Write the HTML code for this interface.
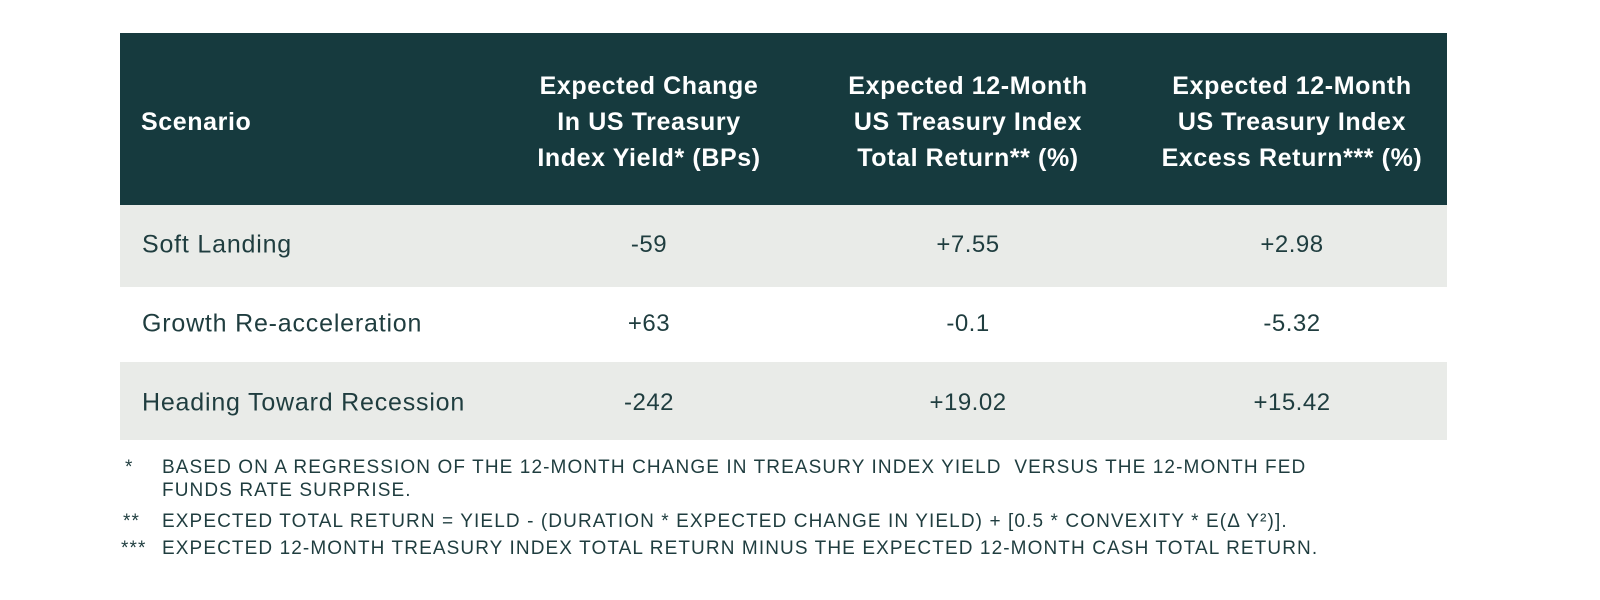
<!DOCTYPE html>
<html><head><meta charset="utf-8">
<style>
body{margin:0;width:1600px;height:600px;background:#fff;position:relative;overflow:hidden;font-family:"Liberation Sans",sans-serif;color:#1f3d3f}
.hdr{position:absolute;left:120px;top:33px;width:1327px;height:172px;background:#163a3e}
.h{position:absolute;color:#fff;font-weight:bold;font-size:25px;letter-spacing:0.6px;line-height:36px;text-align:center;white-space:nowrap}
.row{position:absolute;left:120px;width:1327px}
.c{position:absolute;font-size:24px;letter-spacing:0.5px;white-space:nowrap;transform:translate(-50%,-50%)}
.l{position:absolute;font-size:25px;letter-spacing:0.8px;white-space:nowrap;transform:translateY(-50%);left:142px}
.fn{position:absolute;font-size:19px;letter-spacing:1.1px;white-space:nowrap;line-height:23px}
</style></head><body>
<div class="hdr"></div>
<div class="h" style="left:141px;top:104px;text-align:left">Scenario</div>
<div class="h" style="left:649px;top:68px;transform:translateX(-50%)">Expected Change<br>In US Treasury<br>Index Yield* (BPs)</div>
<div class="h" style="left:968px;top:68px;transform:translateX(-50%)">Expected 12-Month<br>US Treasury Index<br>Total Return** (%)</div>
<div class="h" style="left:1292px;top:68px;transform:translateX(-50%)">Expected 12-Month<br>US Treasury Index<br>Excess Return*** (%)</div>

<div class="row" style="top:205px;height:82px;background:#e9ebe8"></div>
<div class="row" style="top:287px;height:75px;background:#fff"></div>
<div class="row" style="top:362px;height:78px;background:#e9ebe8"></div>

<div class="l" style="top:245px">Soft Landing</div>
<div class="c" style="left:649px;top:245px">-59</div>
<div class="c" style="left:968px;top:245px">+7.55</div>
<div class="c" style="left:1292px;top:245px">+2.98</div>

<div class="l" style="top:324px">Growth Re-acceleration</div>
<div class="c" style="left:649px;top:324px">+63</div>
<div class="c" style="left:968px;top:324px">-0.1</div>
<div class="c" style="left:1292px;top:324px">-5.32</div>

<div class="l" style="top:403px">Heading Toward Recession</div>
<div class="c" style="left:649px;top:403px">-242</div>
<div class="c" style="left:968px;top:403px">+19.02</div>
<div class="c" style="left:1292px;top:403px">+15.42</div>

<div class="fn" style="left:125px;top:456px">*</div>
<div class="fn" style="left:162px;top:456px">BASED ON A REGRESSION OF THE 12-MONTH CHANGE IN TREASURY INDEX YIELD&nbsp; VERSUS THE 12-MONTH FED<br>FUNDS RATE SURPRISE.</div>
<div class="fn" style="left:123px;top:510px">**</div>
<div class="fn" style="left:162px;top:510px">EXPECTED TOTAL RETURN = YIELD - (DURATION * EXPECTED CHANGE IN YIELD) + [0.5 * CONVEXITY * E(Δ Y²)].</div>
<div class="fn" style="left:121px;top:537px">***</div>
<div class="fn" style="left:162px;top:537px">EXPECTED 12-MONTH TREASURY INDEX TOTAL RETURN MINUS THE EXPECTED 12-MONTH CASH TOTAL RETURN.</div>
</body></html>
